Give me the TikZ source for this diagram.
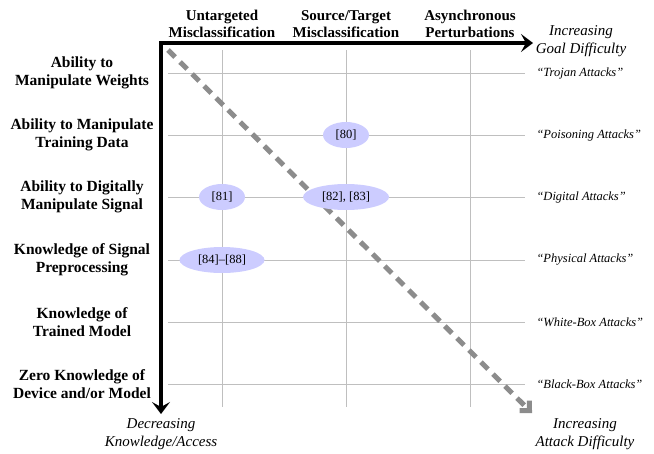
\documentclass[tikz,border=0pt]{standalone}
\usepackage{fontspec}
\setmainfont{Liberation Serif}
\usetikzlibrary{arrows.meta,shapes.geometric}
\begin{document}
\begin{tikzpicture}[x=1pt,y=-1pt,
  gridline/.style={draw=black!25,line width=0.9pt},
  axis/.style={line width=4pt,-{Stealth[length=12pt,width=18pt,inset=5pt]}},
  diag/.style={draw=black!45,line width=5pt,dash pattern=on 10pt off 7pt,-{Straight Barb[length=7pt,width=14pt]}},
  colhead/.style={font=\fontsize{15}{17.5}\selectfont\bfseries,align=center},
  rowhead/.style={font=\fontsize{15.5}{18}\selectfont\bfseries,align=center},
  attack/.style={font=\fontsize{12.5}{15}\selectfont\itshape,anchor=west},
  axislabel/.style={font=\fontsize{15}{17.5}\selectfont\itshape,align=center},
  cite/.style={ellipse,fill=blue!20,inner sep=0pt,minimum height=26pt,font=\fontsize{12.5}{15}\selectfont}]
\useasboundingbox (0,0) rectangle (654,453);

% grid
\foreach \x in {222,346,470} \draw[gridline] (\x,50) -- (\x,407);
\foreach \y in {73,135,197,260,322,384} \draw[gridline] (168,\y) -- (525,\y);

% diagonal difficulty trend
\coordinate (dstart) at (168,50);
\coordinate (dend) at (532,413);
\draw[diag] (dstart) -- (dend);

% axes
\coordinate (origin) at (161,43);
\coordinate (xend) at (533,43);
\coordinate (yend) at (161,414);
\draw[axis] (159,43) -- (xend);
\draw[axis] (161,41) -- (yend);

% column headers
\node[colhead] (c1) at (222,24) {Untargeted\\Misclassification};
\node[colhead] (c2) at (346,24) {Source/Target\\Misclassification};
\node[colhead] (c3) at (470,24) {Asynchronous\\Perturbations};

% row headers
\node[rowhead] (r1) at (82,73) {Ability to\\Manipulate Weights};
\node[rowhead] (r2) at (82,135) {Ability to Manipulate\\Training Data};
\node[rowhead] (r3) at (82,197) {Ability to Digitally\\Manipulate Signal};
\node[rowhead] (r4) at (82,260) {Knowledge of Signal\\Preprocessing};
\node[rowhead] (r5) at (82,322) {Knowledge of\\Trained Model};
\node[rowhead] (r6) at (82,384) {Zero Knowledge of\\Device and/or Model};

% attack categories
\node[attack] (a1) at (533,73) {``Trojan Attacks''};
\node[attack] (a2) at (533,135) {``Poisoning Attacks''};
\node[attack] (a3) at (533,197) {``Digital Attacks''};
\node[attack] (a4) at (533,260) {``Physical Attacks''};
\node[attack] (a5) at (533,322) {``White-Box Attacks''};
\node[attack] (a6) at (533,384) {``Black-Box Attacks''};

% axis captions
\node[axislabel] (goal) at (581,41) {Increasing\\Goal Difficulty};
\node[axislabel] (know) at (161,434) {Decreasing\\Knowledge/Access};
\node[axislabel] (diff) at (585,434) {Increasing\\Attack Difficulty};

% references
\node[cite,minimum width=46pt] (e80) at (346,135) {[80]};
\node[cite,minimum width=46pt] (e81) at (222,197) {[81]};
\node[cite,minimum width=86pt] (e82) at (346,197) {[82], [83]};
\node[cite,minimum width=85pt] (e84) at (222,260) {[84]--[88]};
\end{tikzpicture}
\end{document}
